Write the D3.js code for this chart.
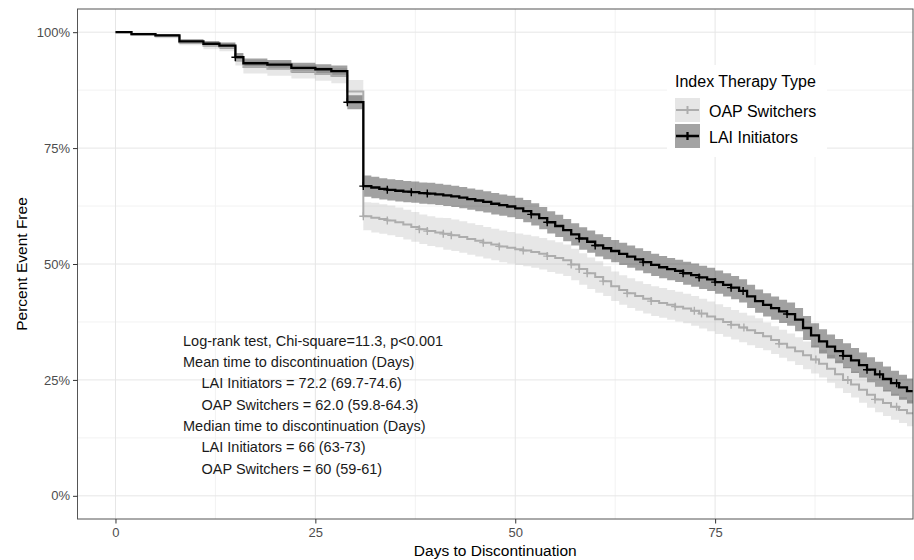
<!DOCTYPE html>
<html>
<head>
<meta charset="utf-8">
<script src="https://cdn.jsdelivr.net/npm/d3@7"></script>
<style>
  body { margin: 0; background: #fff; }
  text { font-family: "Liberation Sans", Arial, sans-serif; }
</style>
</head>
<body>
<svg></svg>
<script>
// event days (shared by both curves)
let days = [0, 2, 5, 8, 11, 13, 15, 16, 19, 22, 25, 27, 29, 31,
  32, 33, 34, 35, 36, 37, 38, 39, 40, 41, 42, 43, 44, 45, 46, 47, 48, 49, 50,
  51, 52, 53, 54, 55, 56, 57, 58, 59, 60, 61, 62, 63, 64, 65, 66, 67, 68, 69, 70,
  71, 72, 73, 74, 75, 76, 77, 78, 79, 80, 81, 82, 83, 84, 85, 86, 87, 88, 89, 90,
  91, 92, 93, 94, 95, 96, 97, 98, 99, 100];

// percent event free
let laiSurv = [100, 99.6, 99.3, 98.0, 97.5, 97.1, 94.6, 93.3, 93.0, 92.3, 92.0, 91.6, 84.9, 66.8,
  66.5, 66.2, 66.0, 65.8, 65.6, 65.5, 65.3, 65.2, 65.0, 64.8, 64.6, 64.3, 64.0, 63.7, 63.4, 63.0, 62.7, 62.4, 62.0,
  61.4, 60.7, 59.9, 59.0, 58.2, 57.3, 56.4, 55.5, 54.8, 54.0, 53.4, 52.8, 52.2, 51.6, 51.0, 50.4, 49.8, 49.3, 48.9, 48.5,
  48.0, 47.6, 47.1, 46.7, 46.1, 45.5, 44.9, 44.2, 43.0, 42.0, 41.2, 40.5, 39.8, 39.2, 38.0, 36.2, 34.6, 33.3, 32.2, 31.2,
  30.2, 29.2, 28.2, 27.2, 26.2, 25.2, 24.3, 23.4, 22.6, 21.8];
let oapSurv = [100, 99.5, 99.1, 97.8, 97.1, 96.8, 94.0, 92.5, 92.1, 91.5, 91.0, 90.6, 87.2, 60.3,
  60.0, 59.7, 59.4, 59.0, 58.5, 58.0, 57.5, 57.1, 56.8, 56.5, 56.2, 55.8, 55.4, 55.0, 54.6, 54.2, 53.8, 53.5, 53.2,
  52.9, 52.6, 52.2, 51.7, 51.3, 50.8, 49.9, 48.9, 48.0, 47.2, 46.3, 45.2, 44.4, 43.7, 43.1, 42.5, 42.0, 41.6, 41.2, 40.8,
  40.4, 39.9, 39.3, 38.7, 38.1, 37.5, 36.9, 36.3, 35.7, 35.1, 34.4, 33.6, 32.8, 32.0, 31.2, 30.3, 29.4, 28.5, 27.4, 26.2,
  25.0, 24.0, 22.9, 21.8, 20.8, 20.0, 19.2, 18.5, 17.8, 17.2];

// half width of the 95% band, percent
let laiCiHalf = [0, 0.2, 0.3, 0.5, 0.6, 0.7, 0.9, 1.0, 1.0, 1.1, 1.1, 1.2, 1.5, 2.3,
  2.3, 2.3, 2.3, 2.3, 2.3, 2.3, 2.3, 2.3, 2.3, 2.3, 2.3, 2.3, 2.3, 2.3, 2.3, 2.3, 2.3, 2.3, 2.3,
  2.4, 2.4, 2.4, 2.4, 2.4, 2.4, 2.4, 2.4, 2.4, 2.4, 2.4, 2.4, 2.4, 2.4, 2.4, 2.4, 2.4, 2.4, 2.4, 2.4,
  2.5, 2.5, 2.5, 2.5, 2.5, 2.5, 2.5, 2.5, 2.5, 2.5, 2.5, 2.5, 2.5, 2.5, 2.5, 2.6, 2.6, 2.6, 2.6, 2.6,
  2.7, 2.7, 2.7, 2.7, 2.7, 2.7, 2.7, 2.7, 2.7, 2.7];
let oapCiHalf = [0, 0.3, 0.4, 0.6, 0.8, 0.9, 1.2, 1.4, 1.5, 1.5, 1.5, 1.6, 2.5, 3.0,
  3.2, 3.2, 3.2, 3.2, 3.2, 3.2, 3.2, 3.2, 3.2, 3.4, 3.4, 3.4, 3.4, 3.4, 3.4, 3.4, 3.4, 3.4, 3.4,
  3.4, 3.4, 3.4, 3.4, 3.4, 3.4, 3.4, 3.4, 3.4, 3.4, 3.2, 3.2, 3.2, 3.2, 3.2, 3.2, 3.2, 3.2, 3.2, 3.2,
  3.2, 3.2, 3.2, 3.2, 3.2, 3.2, 3.2, 3.2, 3.2, 3.2, 3.0, 3.0, 3.0, 3.0, 3.0, 3.0, 3.0, 3.0, 3.0, 3.0,
  2.8, 2.8, 2.8, 2.8, 2.8, 2.8, 2.8, 2.8, 2.8, 2.8];

// censored observations (days)
let laiCensor = [15, 29, 31, 34, 37, 39, 52, 54, 58, 60, 66, 71, 73, 75, 77, 78.5, 84, 91, 94, 95.6, 97.7];
let oapCensor = [31, 34, 38, 39, 41, 42, 46, 48, 51, 54, 57, 58, 59, 61, 64, 67, 70, 72.4, 73.3, 77, 78.6, 83, 87.6, 91.6, 95, 97.7];

let xTicks = [0, 25, 50, 75];
let xMinor = [12.5, 37.5, 62.5, 87.5];
let yTicks = [0, 0.25, 0.5, 0.75, 1];
let yMinor = [0.125, 0.375, 0.625, 0.875];

let notes = [
  'Log-rank test, Chi-square=11.3, p<0.001',
  'Mean time to discontinuation (Days)',
  '  LAI Initiators = 72.2 (69.7-74.6)',
  '  OAP Switchers = 62.0 (59.8-64.3)',
  'Median time to discontinuation (Days)',
  '  LAI Initiators = 66 (63-73)',
  '  OAP Switchers = 60 (59-61)'
];

let svgWidth = 914, svgHeight = 560;
let panel = {left: 77.5, right: 913, top: 9, bottom: 519};

let svg = d3.select('svg')
  .attr('width', svgWidth)
  .attr('height', svgHeight);

let x = d3.scaleLinear().domain([-4.75, 99.75]).range([panel.left, panel.right]);
let y = d3.scaleLinear().domain([-0.05, 1.05]).range([panel.bottom, panel.top]);

svg.append('defs').append('clipPath').attr('id', 'clip')
  .append('rect')
  .attr('x', panel.left).attr('y', panel.top)
  .attr('width', panel.right - panel.left).attr('height', panel.bottom - panel.top);

// grid
let grid = svg.append('g');
grid.selectAll('.xmin').data(xMinor).enter().append('line')
  .attr('x1', d => x(d)).attr('x2', d => x(d))
  .attr('y1', panel.top).attr('y2', panel.bottom)
  .attr('stroke', '#f2f2f2').attr('stroke-width', 1);
grid.selectAll('.ymin').data(yMinor).enter().append('line')
  .attr('y1', d => y(d)).attr('y2', d => y(d))
  .attr('x1', panel.left).attr('x2', panel.right)
  .attr('stroke', '#f2f2f2').attr('stroke-width', 1);
grid.selectAll('.xmaj').data(xTicks).enter().append('line')
  .attr('x1', d => x(d)).attr('x2', d => x(d))
  .attr('y1', panel.top).attr('y2', panel.bottom)
  .attr('stroke', '#e6e6e6').attr('stroke-width', 1);
grid.selectAll('.ymaj').data(yTicks).enter().append('line')
  .attr('y1', d => y(d)).attr('y2', d => y(d))
  .attr('x1', panel.left).attr('x2', panel.right)
  .attr('stroke', '#e6e6e6').attr('stroke-width', 1);

let series = [
  {name: 'OAP Switchers', surv: oapSurv, half: oapCiHalf, censor: oapCensor,
   line: '#adadad', fill: '#b3b3b3', alpha: 0.32, width: 2, keyFill: '#e6e6e6'},
  {name: 'LAI Initiators', surv: laiSurv, half: laiCiHalf, censor: laiCensor,
   line: '#000', fill: '#000', alpha: 0.37, width: 2.3, keyFill: '#a3a3a3'}
];

series.forEach(s => {
  s.points = days.map((d, i) => ({
    day: d,
    s: s.surv[i] / 100,
    lo: (s.surv[i] - s.half[i]) / 100,
    hi: (s.surv[i] + s.half[i]) / 100
  }));
});

let plot = svg.append('g').attr('clip-path', 'url(#clip)');

let band = d3.area().curve(d3.curveStepAfter)
  .x(d => x(d.day)).y0(d => y(d.lo)).y1(d => y(d.hi));
let line = d3.line().curve(d3.curveStepAfter)
  .x(d => x(d.day)).y(d => y(d.s));

series.forEach(s => {
  plot.append('path').datum(s.points)
    .attr('d', band)
    .attr('fill', s.fill).attr('fill-opacity', s.alpha);
});

series.forEach(s => {
  plot.append('path').datum(s.points)
    .attr('d', line)
    .attr('fill', 'none')
    .attr('stroke', s.line).attr('stroke-width', s.width);

  let marks = s.censor.map(c => {
    let i = d3.bisectRight(days, c) - 1;
    return {day: c, s: s.points[i].s};
  });
  let g = plot.append('g');
  g.selectAll('path').data(marks).enter().append('path')
    .attr('d', d => {
      let cx = x(d.day), cy = y(d.s);
      return 'M' + (cx - 4) + ',' + cy + 'H' + (cx + 4) + 'M' + cx + ',' + (cy - 4) + 'V' + (cy + 4);
    })
    .attr('stroke', s.line).attr('stroke-width', 1.4).attr('fill', 'none');
});

// panel border
svg.append('rect')
  .attr('x', panel.left).attr('y', panel.top)
  .attr('width', panel.right - panel.left).attr('height', panel.bottom - panel.top)
  .attr('fill', 'none').attr('stroke', '#555').attr('stroke-width', 1);

// axes
let xAxis = svg.append('g')
  .attr('transform', 'translate(0,' + panel.bottom + ')')
  .call(d3.axisBottom(x).tickValues(xTicks).tickSize(4.5).tickPadding(4));
let yAxis = svg.append('g')
  .attr('transform', 'translate(' + panel.left + ',0)')
  .call(d3.axisLeft(y).tickValues(yTicks).tickSize(4.5).tickPadding(3)
    .tickFormat(d3.format('.0%')));

[xAxis, yAxis].forEach(a => {
  a.select('.domain').remove();
  a.selectAll('.tick line').attr('stroke', '#333').attr('stroke-width', 1);
  a.selectAll('.tick text')
    .attr('fill', '#4d4d4d')
    .style('font-size', '13px')
    .style('font-family', '"Liberation Sans", Arial, sans-serif');
});

svg.append('text')
  .attr('x', (panel.left + panel.right) / 2).attr('y', 556)
  .attr('text-anchor', 'middle')
  .style('font-size', '15.5px')
  .text('Days to Discontinuation');

svg.append('text')
  .attr('transform', 'translate(27,' + ((panel.top + panel.bottom) / 2) + ') rotate(-90)')
  .attr('text-anchor', 'middle')
  .style('font-size', '15.5px')
  .text('Percent Event Free');

// annotation
svg.append('g').selectAll('text').data(notes).enter().append('text')
  .attr('x', d => d.startsWith('  ') ? 201.5 : 183)
  .attr('y', (d, i) => 345.7 + i * 21.3)
  .attr('fill', '#1a1a1a')
  .style('font-size', '14.5px')
  .text(d => d.trim());

// legend
let legend = svg.append('g');
legend.append('rect')
  .attr('x', 667).attr('y', 65).attr('width', 160).attr('height', 92)
  .attr('fill', '#fff');
legend.append('text')
  .attr('x', 675).attr('y', 86.7)
  .style('font-size', '16px')
  .text('Index Therapy Type');

let keys = legend.selectAll('.key').data(series).enter().append('g')
  .attr('transform', (d, i) => 'translate(675,' + (98 + i * 26) + ')');
keys.append('rect')
  .attr('width', 25).attr('height', 24)
  .attr('fill', d => d.keyFill);
keys.append('path')
  .attr('d', 'M1,12H24M12.5,8V16')
  .attr('stroke', d => d.line).attr('stroke-width', d => d.width)
  .attr('fill', 'none');
keys.append('text')
  .attr('x', 34).attr('y', 18.5)
  .style('font-size', '16px')
  .text(d => d.name);
</script>
</body>
</html>
